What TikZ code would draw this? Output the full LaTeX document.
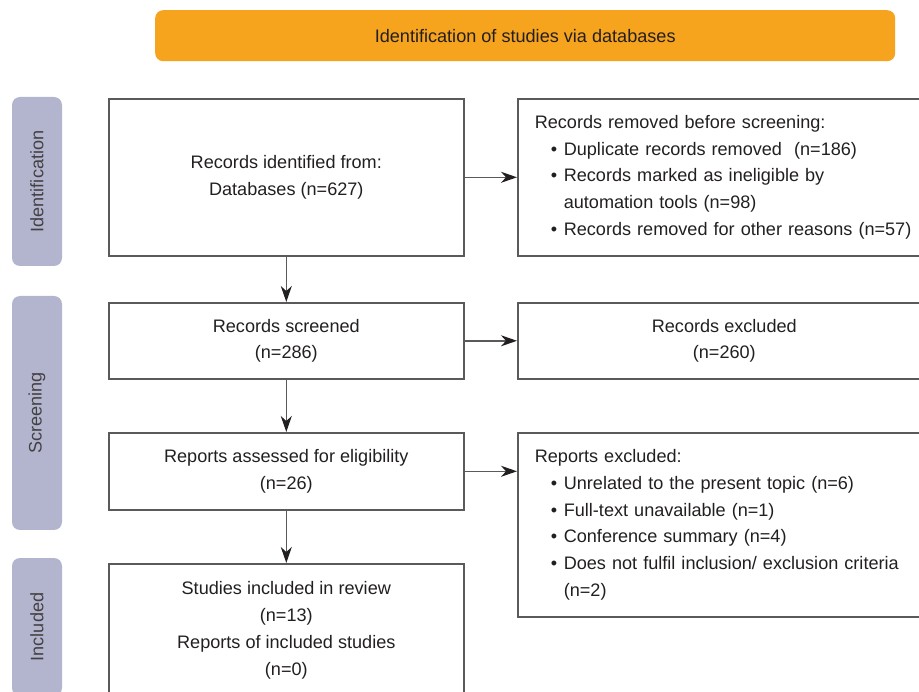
\documentclass[tikz,border=0pt]{standalone}
\usepackage{fontspec}
\setmainfont{Liberation Sans}
\usetikzlibrary{arrows.meta,positioning}
\definecolor{bannerorange}{HTML}{F6A31E}
\definecolor{sidelav}{HTML}{B3B5CF}
\definecolor{boxline}{HTML}{5A5A5A}
\definecolor{ink}{HTML}{231F20}
\newcommand{\bul}{\hspace*{16pt}\makebox[13pt][l]{\textbullet}}
\newcommand{\cnt}{\hspace*{29pt}}

\begin{document}
\begin{tikzpicture}[x=1pt, y=-1pt, every node/.style={font=\fontsize{18.1}{26.7}\selectfont, text=ink},
		b/.style={draw=boxline, line width=1.6pt, anchor=north west, inner sep=0pt, align=center},
		bl/.style={b, align=left, inner xsep=17pt, text width=400pt},
		side/.style={fill=sidelav, rounded corners=8pt, inner sep=0pt, minimum height=50pt, rotate=90, text=ink!85},
		arr/.style={draw=boxline, line width=1.5pt, -{Stealth[length=16pt, width=11pt, inset=5pt, color=ink]}}]
	\useasboundingbox (0,0) rectangle (919,692);
	\clip (0,0) rectangle (919,692);
	\node[fill=bannerorange, rounded corners=8pt, anchor=north west, minimum width=740pt, minimum height=51pt] (banner) at (155,10) {Identification of studies via databases};
	\node[side, minimum width=169pt] (lblid) at (37,181.5) {Identification};
	\node[side, minimum width=234pt] (lblscr) at (37,413) {Screening};
	\node[side, minimum width=138pt] (lblinc) at (37,627) {Included};
	\node[b, minimum width=355pt, minimum height=157pt] (ident) at (108,98) {Records identified from:\\Databases (n=627)};
	\node[bl, minimum height=157pt] (removed) at (517,98) {Records removed before screening:\\\bul Duplicate records removed\ \ (n=186)\\\bul Records marked as ineligible by\\\cnt automation tools (n=98)\\\bul Records removed for other reasons (n=57)};
	\node[b, minimum width=355pt, minimum height=76pt] (screened) at (108,302) {Records screened\\(n=286)};
	\node[b, minimum width=413pt, minimum height=76pt] (excluded) at (517,302) {Records excluded\\(n=260)};
	\node[b, minimum width=355pt, minimum height=77pt] (assessed) at (108,432) {Reports assessed for eligibility\\(n=26)};
	\node[bl, minimum height=184pt] (repexcl) at (517,432) {Reports excluded:\\\bul Unrelated to the present topic (n=6)\\\bul Full-text unavailable (n=1)\\\bul Conference summary (n=4)\\\bul Does not fulfil inclusion/ exclusion criteria\\\cnt (n=2)};
	\node[b, minimum width=355pt, minimum height=133pt] (included) at (108,563) {Studies included in review\\(n=13)\\Reports of included studies\\(n=0)};
	\draw[arr] (ident) -- (screened);
	\draw[arr] (screened) -- (assessed);
	\draw[arr] (assessed) -- (included);
	\draw[arr] (ident) -- (removed);
	\draw[arr] (screened) -- (excluded);
	\draw[arr] (assessed.east) -- (assessed.east -| repexcl.west);
\end{tikzpicture}
\end{document}
